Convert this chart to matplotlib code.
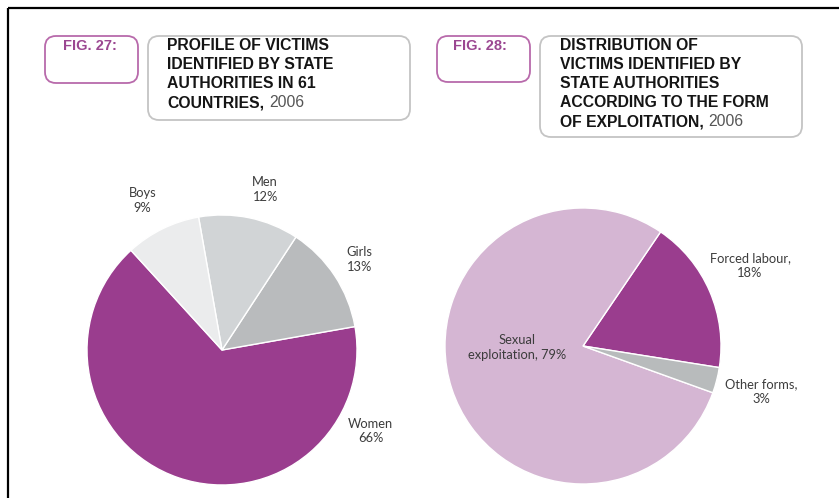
import matplotlib
matplotlib.use("Agg")
import matplotlib.pyplot as plt
from matplotlib.patches import FancyBboxPatch

W, H = 839, 498

# Fig. 27 – profile of victims
profile_names = ["Women", "Girls", "Men", "Boys"]
profile_values = [66, 13, 12, 9]
profile_colors = ["#9a3d8e", "#b9bbbd", "#d1d4d6", "#ebeced"]

# Fig. 28 – form of exploitation
form_names = ["Forced labour", "Sexual exploitation", "Other forms"]
form_values = [18, 79, 3]
form_colors = ["#9a3d8e", "#d5b6d3", "#b8bbbc"]
form_label_fmt = ["Forced labour,\n{}%", "Sexual\nexploitation, {}%", "Other forms,\n{}%"]

fig_tags = ["FIG. 27:", "FIG. 28:"]
title_lines_27 = ["PROFILE OF VICTIMS", "IDENTIFIED BY STATE", "AUTHORITIES IN 61", "COUNTRIES,"]
title_lines_28 = ["DISTRIBUTION OF", "VICTIMS IDENTIFIED BY", "STATE AUTHORITIES",
                  "ACCORDING TO THE FORM", "OF EXPLOITATION,"]
title_year = "2006"

LABEL_FONT = ["Lato", "DejaVu Sans"]
TITLE_FONT = ["Liberation Sans", "DejaVu Sans"]
PURPLE_TXT = "#9b4791"
BOX_PURPLE = "#b86aab"
BOX_GREY = "#c4c4c4"

fig = plt.figure(figsize=(W / 100, H / 100), dpi=100)
fig.patch.set_facecolor("white")

# pixel-space overlay for frame, boxes and headings
ov = fig.add_axes([0, 0, 1, 1])
ov.set_xlim(0, W)
ov.set_ylim(H, 0)
ov.axis("off")

# page frame
ov.plot([8, W], [7.5, 7.5], color="black", lw=1.6, solid_capstyle="butt")
ov.plot([8, 8], [7.5, H], color="black", lw=1.6, solid_capstyle="butt")


def rbox(x0, y0, x1, y1, color, r=11):
    ov.add_patch(FancyBboxPatch((x0, y0), x1 - x0, y1 - y0,
                                boxstyle=f"round,pad=0,rounding_size={r}",
                                fc="white", ec=color, lw=1.3))


def heading(tag, tag_x, box_tag, box_title, lines, text_x, baselines):
    rbox(*box_tag, BOX_PURPLE)
    rbox(*box_title, BOX_GREY)
    ov.text(tag_x, 49.5, tag, fontsize=10.5, fontweight="bold", color=PURPLE_TXT,
            family=TITLE_FONT, va="baseline", ha="left")
    last = None
    for line, yb in zip(lines, baselines):
        last = ov.text(text_x, yb, line, fontsize=11.3, fontweight="bold", color="#151515",
                       family=TITLE_FONT, va="baseline", ha="left")
    ov.annotate(title_year, xy=(1, 0), xycoords=last, xytext=(3.5, 0),
                textcoords="offset points", fontsize=11.3, color="#555555",
                family=TITLE_FONT, va="bottom", ha="left")


heading(fig_tags[0], 63, (45, 36, 138, 83), (148, 36, 410, 120),
        title_lines_27, 167, [50.0, 69.0, 88.0, 107.0])
heading(fig_tags[1], 453, (437, 36, 530, 82), (540, 36, 802, 137),
        title_lines_28, 560, [50.0, 69.0, 88.0, 107.0, 126.0])


def pie_axes(cx, cy, r):
    return fig.add_axes([(cx - r) / W, (H - cy - r) / H, 2 * r / W, 2 * r / H])


# Fig. 27 pie
ax1 = pie_axes(222, 350, 135)
ax1.pie(profile_values, colors=profile_colors, startangle=132.4, counterclock=True,
        wedgeprops=dict(edgecolor="white", linewidth=1.0))
ax1.set_xlim(-1, 1)
ax1.set_ylim(-1, 1)
profile_label_pos = [(1.10, -0.60), (1.02, 0.67), (0.32, 1.19), (-0.59, 1.11)]
for name, v, (lx, ly) in zip(profile_names, profile_values, profile_label_pos):
    ax1.text(lx, ly, f"{name}\n{v}%", ha="center", va="center", fontsize=9.3,
             family=LABEL_FONT, color="#3c3c3c", linespacing=1.3)

# Fig. 28 pie
ax2 = pie_axes(583, 346, 138)
ax2.pie(form_values, colors=form_colors, startangle=-9, counterclock=True,
        wedgeprops=dict(edgecolor="white", linewidth=1.0))
ax2.set_xlim(-1, 1)
ax2.set_ylim(-1, 1)
form_label_pos = [(1.21, 0.58), (-0.48, -0.01), (1.29, -0.33)]
for fmt, v, (lx, ly) in zip(form_label_fmt, form_values, form_label_pos):
    ax2.text(lx, ly, fmt.format(v), ha="center", va="center", fontsize=9.3,
             family=LABEL_FONT, color="#3c3c3c", linespacing=1.3)

fig.savefig("out.png", dpi=100, facecolor="white")
